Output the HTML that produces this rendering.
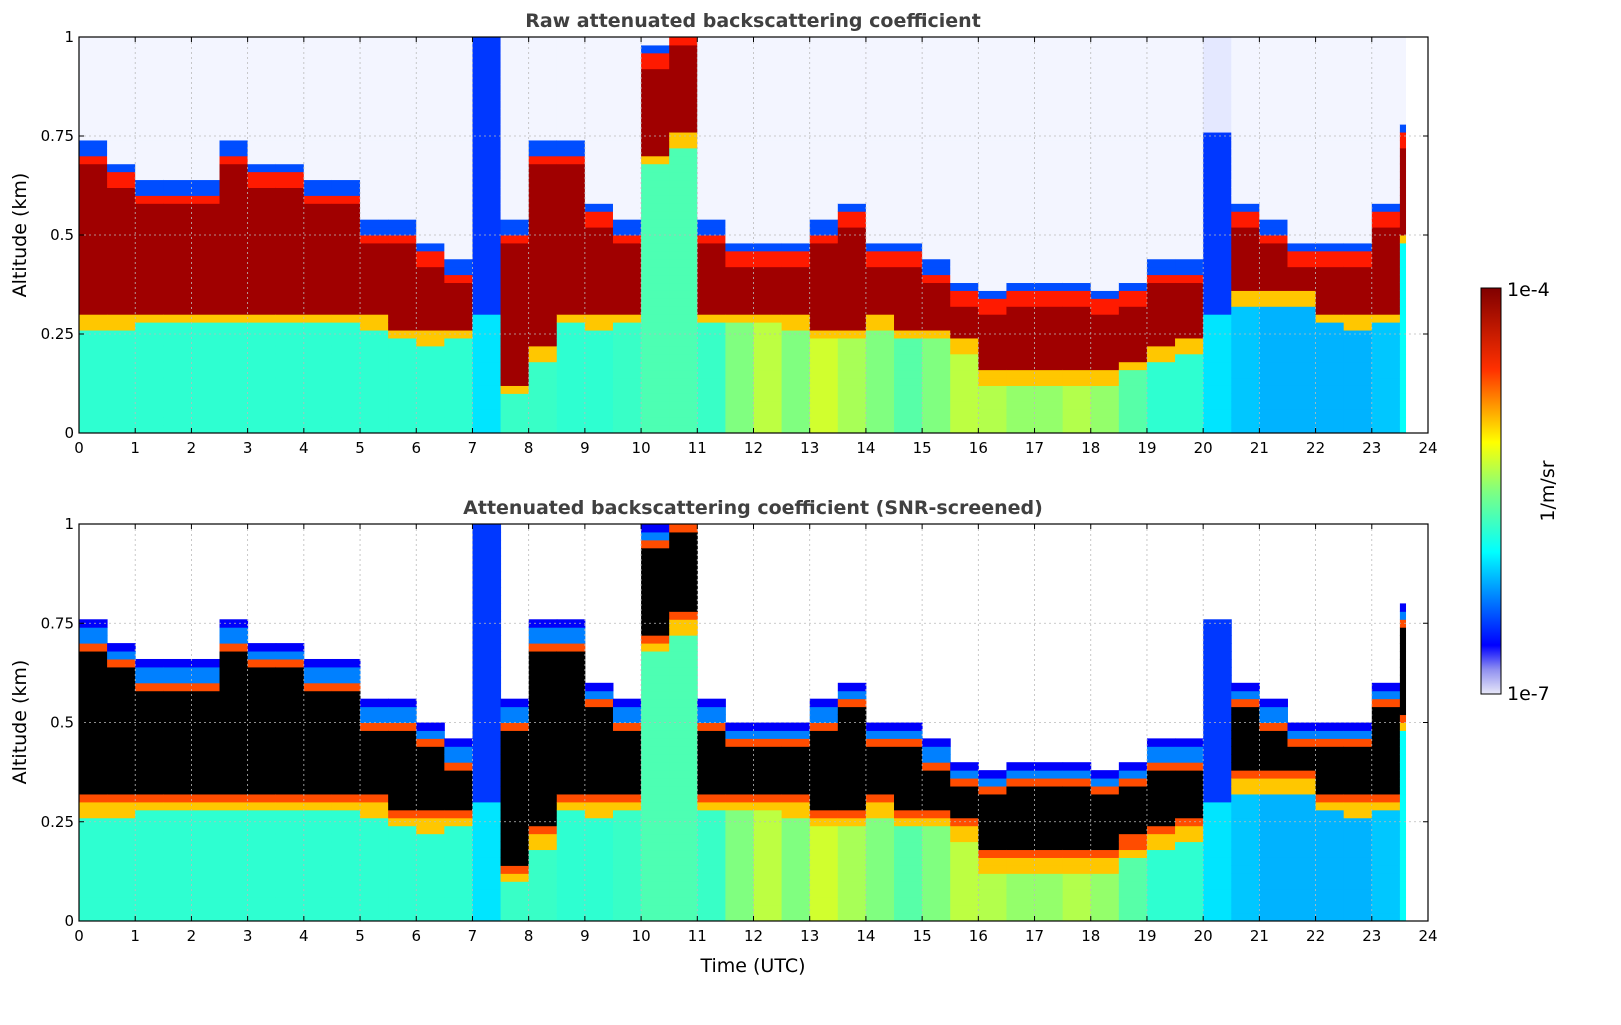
<!DOCTYPE html>
<html><head><meta charset="utf-8">
<style>
body{margin:0;background:#fff;font-family:"Liberation Sans","DejaVu Sans",sans-serif;}
svg text{font-family:"DejaVu Sans","Liberation Sans",sans-serif;}
</style></head>
<body>
<svg id="chart" width="1621" height="1020" xmlns="http://www.w3.org/2000/svg">
<defs>
<linearGradient id="jetgrad" x1="0" y1="1" x2="0" y2="0">
<stop offset="0" stop-color="#e8e8f8"/><stop offset="0.06" stop-color="#9090f0"/><stop offset="0.12" stop-color="#0000ff"/>
<stop offset="0.35" stop-color="#00ffff"/><stop offset="0.5" stop-color="#80ff80"/><stop offset="0.62" stop-color="#ffff00"/>
<stop offset="0.8" stop-color="#ff3000"/><stop offset="1" stop-color="#800000"/>
</linearGradient>
</defs>
<g id="p1"></g>
<g id="p2"></g>
<text x="753" y="27" font-size="19" font-weight="bold" fill="#404040" text-anchor="middle">Raw attenuated backscattering coefficient</text>
<text x="753" y="514" font-size="19" font-weight="bold" fill="#404040" text-anchor="middle">Attenuated backscattering coefficient (SNR-screened)</text>
<text x="753" y="972" font-size="19" text-anchor="middle">Time (UTC)</text>
<text transform="translate(26,235) rotate(-90)" font-size="19" text-anchor="middle">Altitude (km)</text>
<text transform="translate(26,722) rotate(-90)" font-size="19" text-anchor="middle">Altitude (km)</text>
<g>
<rect x="1481" y="288" width="20" height="406" fill="url(#jetgrad)" stroke="#000" stroke-width="1"/>
<text x="1507" y="296" font-size="19">1e-4</text>
<text x="1507" y="700" font-size="19">1e-7</text>
<text transform="translate(1554,491) rotate(-90)" font-size="19" text-anchor="middle">1/m/sr</text>
</g>
</svg>
<script>
const times=[0,0.5,1,1.5,2,2.5,3,3.5,4,4.5,5,5.5,6,6.5,7,7.5,8,8.5,9,9.5,10,10.5,11,11.5,12,12.5,13,13.5,14,14.5,15,15.5,16,16.5,17,17.5,18,18.5,19,19.5,20,20.5,21,21.5,22,22.5,23,23.5];
const cloudBase=[0.28,0.28,0.3,0.3,0.3,0.3,0.3,0.3,0.3,0.3,0.28,0.25,0.24,0.25,0,0.12,0.2,0.3,0.28,0.3,0.7,0.75,0.3,0.3,0.3,0.28,0.25,0.25,0.28,0.25,0.25,0.22,0.15,0.15,0.15,0.15,0.15,0.18,0.2,0.22,0,0.35,0.35,0.35,0.3,0.28,0.3,0.5];
const cloudTop=[0.7,0.65,0.6,0.6,0.6,0.7,0.65,0.65,0.6,0.6,0.5,0.5,0.45,0.4,0,0.5,0.7,0.7,0.55,0.5,0.95,1.0,0.5,0.45,0.45,0.45,0.5,0.55,0.45,0.45,0.4,0.35,0.32,0.35,0.35,0.35,0.32,0.35,0.4,0.4,0,0.55,0.5,0.45,0.45,0.45,0.55,0.75];
const bgLevel=[0.42,0.42,0.42,0.42,0.42,0.42,0.42,0.42,0.42,0.42,0.42,0.42,0.42,0.42,0.3,0.43,0.43,0.42,0.42,0.43,0.45,0.45,0.43,0.5,0.56,0.5,0.58,0.54,0.5,0.46,0.5,0.56,0.55,0.52,0.52,0.55,0.52,0.46,0.42,0.42,0.3,0.32,0.3,0.3,0.3,0.3,0.32,0.38];
const blTop=[0,0,0,0,0,0,0,0,0,0,0,0,0,0,1,0,0,0,0,0,0,0,0,0,0,0,0,0,0,0,0,0,0,0,0,0,0,0,0,0,0.75,0,0,0,0,0,0,0];
const xTicks=[0,1,2,3,4,5,6,7,8,9,10,11,12,13,14,15,16,17,18,19,20,21,22,23,24];
const yTicks=[0,0.25,0.5,0.75,1];
const yTickLabels=["0","0.25","0.5","0.75","1"];
const NS="http://www.w3.org/2000/svg";
const X0=79,X1=1428;
function xs(t){return X0+t/24*(X1-X0);}
function jet(v){v=Math.max(0,Math.min(1,v));
 const r=Math.max(0,Math.min(1,1.5-Math.abs(4*v-3))),g=Math.max(0,Math.min(1,1.5-Math.abs(4*v-2))),b=Math.max(0,Math.min(1,1.5-Math.abs(4*v-1)));
 return `rgb(${Math.round(r*255)},${Math.round(g*255)},${Math.round(b*255)})`;}
function mk(tag,attrs,parent){const e=document.createElementNS(NS,tag);for(const k in attrs)e.setAttribute(k,attrs[k]);parent.appendChild(e);return e;}
function panel(g,yb,yt,screened){
 const ys=a=>yb-a*(yb-yt);
 const dA=0.02;
 times.forEach((t,i)=>{
  const x=xs(t),w=xs(Math.min(t+0.5,23.6))-x;
  for(let a=0;a<1-1e-9;a+=dA){
   let col=null;const b=cloudBase[i],tp=cloudTop[i];
   if(blTop[i]>0){ if(a<blTop[i]) col=jet(a<0.3?bgLevel[i]+0.05:0.18); else col=screened?null:"#e4e8ff";}
   else if(a<b){ col=(b-a<0.03)?jet(0.68):jet(bgLevel[i]); }
   else if(a<=tp){ if(screened) col=(a-b<0.02||tp-a<0.02)?jet(0.8):"#000"; else col=(tp-a<0.03)?jet(0.85):"#a00000"; }
   else { if(screened) col=(a-tp<0.05)?jet(a-tp<0.025?0.25:0.12):null;
          else col=(a-tp<0.03)?jet(0.2):"#f3f5ff"; }
   if(!col) continue;
   const r=mk('rect',{x:x.toFixed(2),y:ys(a+dA).toFixed(2),width:(w+0.5).toFixed(2),height:(ys(a)-ys(a+dA)+0.5).toFixed(2),fill:col},g);
   
   
  }
 });
 xTicks.forEach(t=>{const x=xs(t);
  if(t>0&&t<24){const l=mk('line',{x1:x,x2:x,y1:yt,y2:yb,stroke:'#bbb','stroke-dasharray':'2,3','stroke-width':0.8},g);
  }
  mk('line',{x1:x,x2:x,y1:yb,y2:yb-5,stroke:'#000'},g);mk('line',{x1:x,x2:x,y1:yt,y2:yt+5,stroke:'#000'},g);
  const tx=mk('text',{x:x,y:yb+20,'font-size':15,'text-anchor':'middle'},g);tx.textContent=t;
  });
 yTicks.forEach((a,k)=>{const y=ys(a);
  if(a>0&&a<1){const l=mk('line',{x1:X0,x2:X1,y1:y,y2:y,stroke:'#bbb','stroke-dasharray':'2,3','stroke-width':0.8},g);
  }
  mk('line',{x1:X0,x2:X0+5,y1:y,y2:y,stroke:'#000'},g);mk('line',{x1:X1,x2:X1-5,y1:y,y2:y,stroke:'#000'},g);
  const tx=mk('text',{x:X0-5,y:y+5,'font-size':15,'text-anchor':'end'},g);tx.textContent=yTickLabels[k];
  });
 const fr=mk('rect',{x:X0,y:yt,width:X1-X0,height:yb-yt,fill:'none',stroke:'#000','stroke-width':1.2},g);
 
}
panel(document.getElementById('p1'),433,37,false);
panel(document.getElementById('p2'),921,524,true);
</script>
</body></html>
